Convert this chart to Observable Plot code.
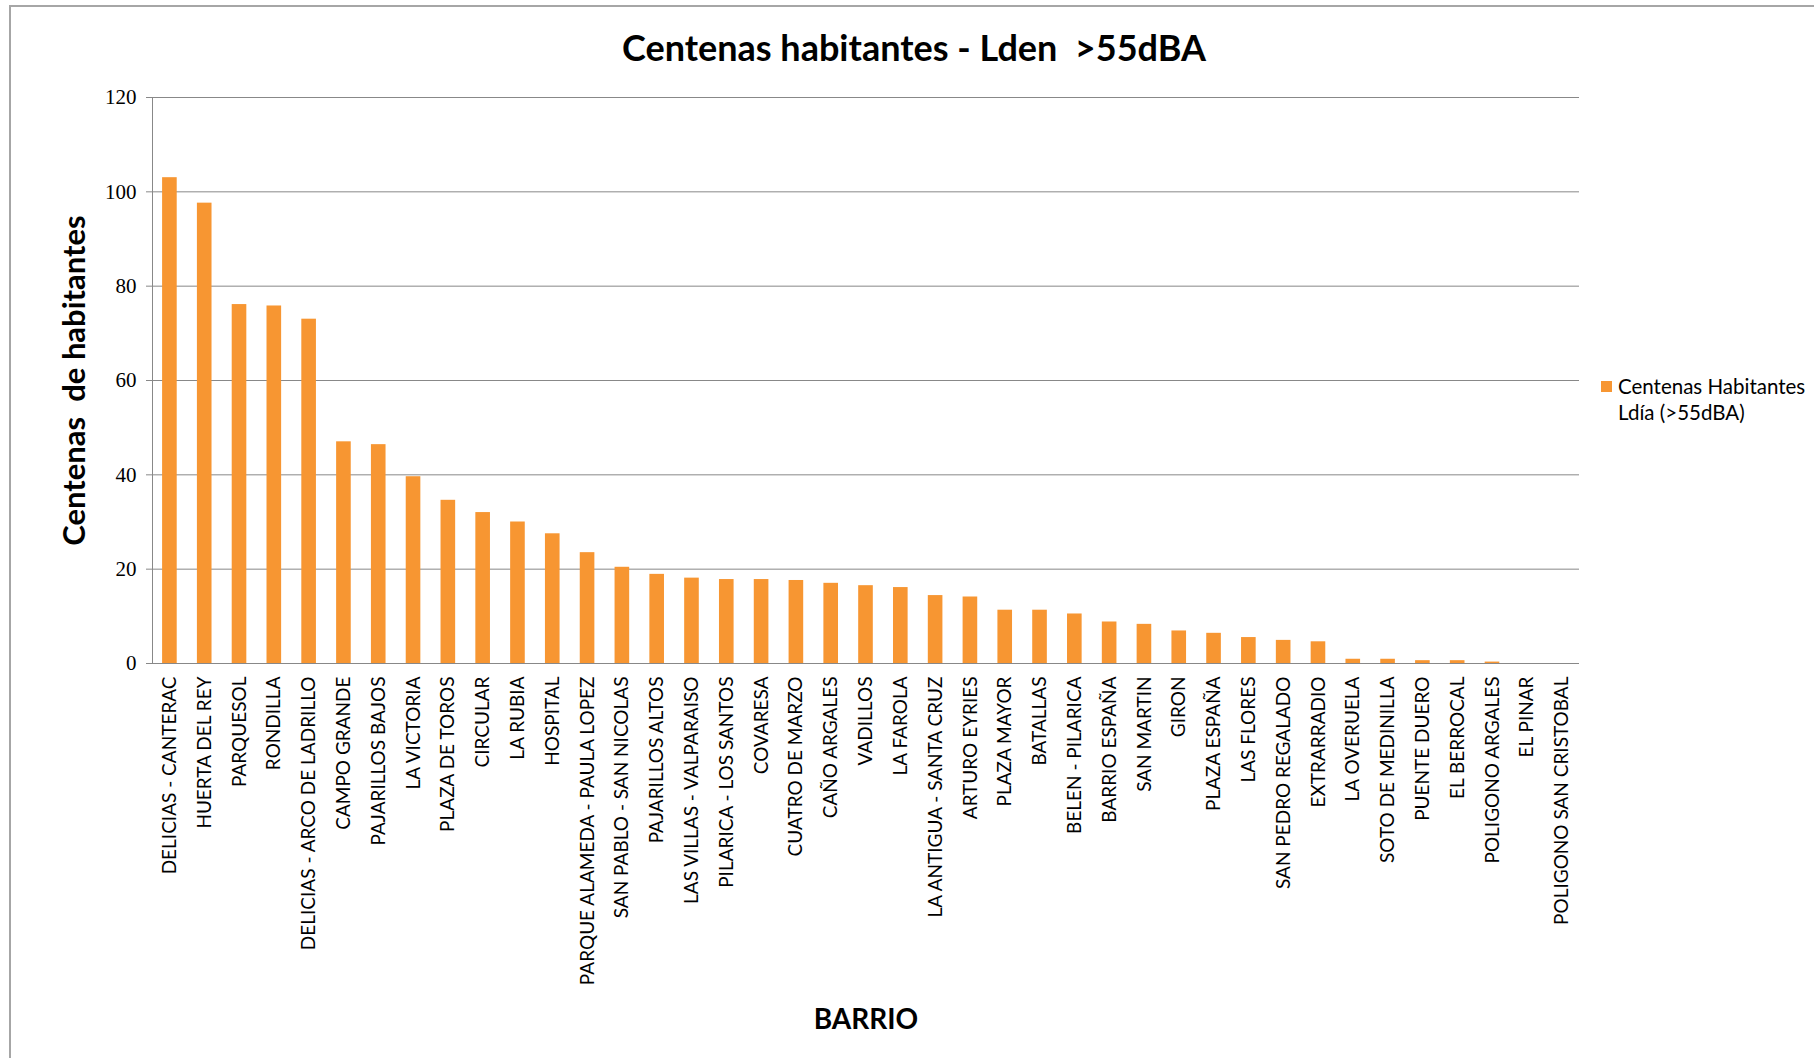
<!DOCTYPE html>
<html>
<head>
<meta charset="utf-8">
<script src="https://cdn.jsdelivr.net/npm/d3@7"></script>
<script src="https://cdn.jsdelivr.net/npm/@observablehq/plot@0.6"></script>
<style>
  body { margin: 0; background: #fff; }
  #chart { position: relative; width: 1814px; height: 1058px; overflow: hidden; font-family: Lato, "Open Sans", sans-serif; color: #000; }
  #frame { position: absolute; left: 9px; top: 5px; right: -10px; bottom: -10px; border-left: 2px solid #a6a6a6; border-top: 2px solid #a6a6a6; }
  #title { position: absolute; left: 0; width: 1828px; top: 25px; text-align: center; font-weight: bold; font-size: 36px; white-space: pre; }
  #plot { position: absolute; left: 0; top: 70px; }
  #legend { position: absolute; left: 1601px; top: 373px; font-size: 20.5px; line-height: 26px; }
  #legend .sw { position: absolute; left: 0; top: 8px; width: 11px; height: 11px; }
  #legend .txt { margin-left: 17px; white-space: nowrap; }
</style>
</head>
<body>
<div id="chart">
  <div id="frame"></div>
  <div id="title"></div>
  <div id="plot"></div>
  <div id="legend"><div class="sw"></div><div class="txt"></div></div>
</div>
<script>
// Neighbourhoods (barrios), in the order they are plotted
const barrios = [
  "DELICIAS - CANTERAC", "HUERTA DEL REY", "PARQUESOL", "RONDILLA",
  "DELICIAS - ARCO DE LADRILLO", "CAMPO GRANDE", "PAJARILLOS BAJOS", "LA VICTORIA",
  "PLAZA DE TOROS", "CIRCULAR", "LA RUBIA", "HOSPITAL",
  "PARQUE ALAMEDA - PAULA LOPEZ", "SAN PABLO - SAN NICOLAS", "PAJARILLOS ALTOS",
  "LAS VILLAS - VALPARAISO", "PILARICA - LOS SANTOS", "COVARESA", "CUATRO DE MARZO",
  "CAÑO ARGALES", "VADILLOS", "LA FAROLA", "LA ANTIGUA - SANTA CRUZ", "ARTURO EYRIES",
  "PLAZA MAYOR", "BATALLAS", "BELEN - PILARICA", "BARRIO ESPAÑA", "SAN MARTIN",
  "GIRON", "PLAZA ESPAÑA", "LAS FLORES", "SAN PEDRO REGALADO", "EXTRARRADIO",
  "LA OVERUELA", "SOTO DE MEDINILLA", "PUENTE DUERO", "EL BERROCAL",
  "POLIGONO ARGALES", "EL PINAR", "POLIGONO SAN CRISTOBAL"
];

// Hundreds of inhabitants exposed to Lden > 55 dBA, one per barrio
const centenas = [
  103.0, 97.6, 76.1, 75.8,
  73.0, 47.0, 46.4, 39.6,
  34.6, 32.0, 30.0, 27.5,
  23.5, 20.4, 18.9,
  18.1, 17.8, 17.8, 17.6,
  17.0, 16.5, 16.1, 14.4, 14.1,
  11.3, 11.3, 10.5, 8.8, 8.3,
  6.9, 6.4, 5.5, 4.9, 4.6,
  0.9, 0.9, 0.6, 0.6,
  0.3, 0, 0
];

const yTicks = [0, 20, 40, 60, 80, 100, 120];

const titulo = "Centenas habitantes - Lden  >55dBA";
const tituloY = "Centenas \u00a0de habitantes";
const tituloX = "BARRIO";
const serie = "Centenas Habitantes\nLdía (>55dBA)";

const naranja = "#f79632";
const gris = "#888888";

const datos = barrios.map((b, i) => ({barrio: b, valor: centenas[i]}));

document.getElementById("title").textContent = titulo;
document.querySelector("#legend .sw").style.background = naranja;
document.querySelector("#legend .txt").innerHTML = serie.split("\n").map(s => `<div>${s}</div>`).join("");

const plot = Plot.plot({
  width: 1600,
  height: 988,
  marginLeft: 152,
  marginRight: 21,
  marginTop: 27,
  marginBottom: 395,
  style: {fontFamily: "Lato, 'Open Sans', sans-serif", background: "transparent", color: "#000", overflow: "visible"},
  x: {domain: barrios, paddingInner: 0.58, paddingOuter: 0.29, label: null, axis: null},
  y: {domain: [0, 120], label: null, axis: null},
  marks: [
    Plot.gridY(yTicks, {stroke: gris, strokeOpacity: 1, strokeWidth: 1}),
    Plot.barY(datos, {x: "barrio", y: "valor", fill: naranja}),
    Plot.ruleY([0], {stroke: gris, strokeWidth: 1.2}),
    Plot.frame({anchor: "left", stroke: gris}),
    Plot.axisY(yTicks, {
      tickSize: 6, tickPadding: 10, stroke: gris, fill: "#000",
      fontSize: 21, fontFamily: "'Liberation Serif', serif", label: null
    }),
    Plot.axisX({
      tickRotate: -90, tickSize: 0, tickPadding: 13, fill: "#000",
      fontSize: 19, label: null
    }),
    Plot.text([tituloY], {
      text: d => d, frameAnchor: "left", rotate: -90, dx: -77,
      textAnchor: "middle", lineAnchor: "middle",
      fontSize: 31, fontWeight: "bold", fill: "#000"
    }),
    Plot.text([tituloX], {
      text: d => d, frameAnchor: "bottom", dy: 357,
      textAnchor: "middle", lineAnchor: "middle",
      fontSize: 28, fontWeight: "bold", fill: "#000"
    })
  ]
});

document.getElementById("plot").appendChild(plot);
</script>
</body>
</html>
